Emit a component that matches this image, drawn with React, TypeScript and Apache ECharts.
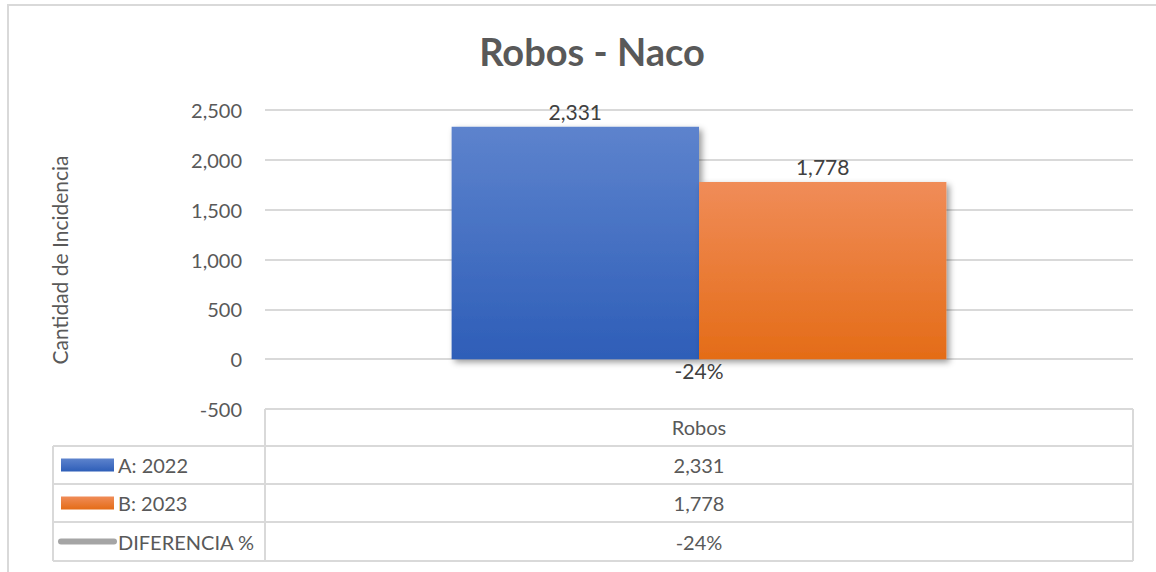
import React, { useEffect, useRef } from "react";
import * as echarts from "echarts";

const categories = ["Robos"];
const seriesNames = ["A: 2022", "B: 2023", "DIFERENCIA %"];
const valuesA = [2331];
const valuesB = [1778];
const diffPct = [-0.24];
const yTicks = { min: -500, max: 2500, interval: 500 };

const FONT = "Lato";
const TEXT = "#595959";
const GRID = "#d9d9d9";

const fmt = (v: number) => v.toLocaleString("en-US");
const pct = (v: number) => `${Math.round(v * 100)}%`;

const blueGrad = () =>
  new echarts.graphic.LinearGradient(0, 0, 0, 1, [
    { offset: 0, color: "#5d83cd" },
    { offset: 1, color: "#2e5eb8" },
  ]);
const orangeGrad = () =>
  new echarts.graphic.LinearGradient(0, 0, 0, 1, [
    { offset: 0, color: "#f08c58" },
    { offset: 1, color: "#e46c17" },
  ]);

export default function App() {
  const ref = useRef<HTMLDivElement>(null);
  useEffect(() => {
    if (!ref.current) return;
    const chart = echarts.init(ref.current, undefined, { renderer: "svg" });

    // table geometry
    const tL = 53, tM = 265, tR = 1133;
    const rows = [409, 446, 484, 522, 561];
    const colCenter = (tM + tR) / 2;
    const line = (x1: number, y1: number, x2: number, y2: number) => ({
      type: "line",
      shape: { x1, y1, x2, y2 },
      style: { stroke: GRID, lineWidth: 2 },
      silent: true,
    });
    const tableValues = [fmt(valuesA[0]), fmt(valuesB[0]), pct(diffPct[0])];
    const graphics: any[] = [
      {
        type: "rect",
        shape: { x: 8, y: 5, width: 1200, height: 620 },
        style: { fill: "none", stroke: GRID, lineWidth: 2 },
        silent: true,
      },
      line(tM, rows[0], tR, rows[0]),
      line(tL, rows[1], tR, rows[1]),
      line(tL, rows[2], tR, rows[2]),
      line(tL, rows[3], tR, rows[3]),
      line(tL, rows[4], tR, rows[4]),
      line(tL, rows[1], tL, rows[4]),
      line(tM, rows[0], tM, rows[4]),
      line(tR, rows[0], tR, rows[4]),
    ];
    const keyFills = [blueGrad(), orangeGrad()];
    seriesNames.forEach((name, i) => {
      const cy = (rows[i + 1] + rows[i + 2]) / 2;
      if (i < 2) {
        graphics.push({
          type: "rect",
          shape: { x: 61, y: cy - 6.5, width: 53, height: 13 },
          style: { fill: keyFills[i] },
          silent: true,
        });
      } else {
        graphics.push({
          type: "line",
          shape: { x1: 61, y1: cy, x2: 114, y2: cy },
          style: { stroke: "#a5a5a5", lineWidth: 6, lineCap: "round" },
          silent: true,
        });
      }
      graphics.push({
        type: "text",
        x: 118,
        y: cy,
        style: {
          text: name,
          fill: TEXT,
          font: `20px ${FONT}`,
          textVerticalAlign: "middle",
          textAlign: "left",
        },
        silent: true,
      });
      graphics.push({
        type: "text",
        x: colCenter,
        y: cy,
        style: {
          text: tableValues[i],
          fill: TEXT,
          font: `20px ${FONT}`,
          textVerticalAlign: "middle",
          textAlign: "center",
        },
        silent: true,
      });
    });
    graphics.push({
      type: "text",
      x: 59,
      y: 260,
      rotation: Math.PI / 2,
      style: {
        text: "Cantidad de Incidencia",
        fill: TEXT,
        font: `21px ${FONT}`,
        textAlign: "center",
        textVerticalAlign: "middle",
      },
      silent: true,
    });

    chart.setOption({
      animation: false,
      title: {
        text: "Robos - Naco",
        left: 587,
        textAlign: "center",
        top: 27,
        textStyle: { fontFamily: FONT, fontSize: 38, fontWeight: "bold", color: TEXT },
      },
      grid: { left: 265, right: 1156 - 1133, top: 110, bottom: 572 - 409 },
      xAxis: {
        type: "category",
        data: categories,
        axisLine: { show: false, onZero: false },
        axisTick: { show: false },
        axisLabel: { color: TEXT, fontFamily: FONT, fontSize: 20, margin: 8 },
      },
      yAxis: {
        type: "value",
        min: yTicks.min,
        max: yTicks.max,
        interval: yTicks.interval,
        axisLine: { show: false },
        axisTick: { show: false },
        splitLine: { lineStyle: { color: GRID, width: 2 } },
        axisLabel: {
          color: TEXT,
          fontFamily: FONT,
          fontSize: 20,
          margin: 23,
          formatter: (v: number) => fmt(v),
        },
      },
      series: [
        {
          name: seriesNames[0],
          type: "bar",
          data: valuesA,
          barGap: "0%",
          barCategoryGap: "43%",
          itemStyle: {
            color: blueGrad(),
            shadowBlur: 6,
            shadowColor: "rgba(0,0,0,0.4)",
            shadowOffsetX: 3,
            shadowOffsetY: 3,
          },
          label: {
            show: true,
            position: "top",
            distance: 5,
            color: "#404040",
            fontFamily: FONT,
            fontSize: 21,
            formatter: (p: any) => fmt(p.value),
          },
        },
        {
          name: seriesNames[1],
          type: "bar",
          data: valuesB,
          itemStyle: {
            color: orangeGrad(),
            shadowBlur: 6,
            shadowColor: "rgba(0,0,0,0.4)",
            shadowOffsetX: 3,
            shadowOffsetY: 3,
          },
          label: {
            show: true,
            position: "top",
            distance: 5,
            color: "#404040",
            fontFamily: FONT,
            fontSize: 21,
            formatter: (p: any) => fmt(p.value),
          },
        },
        {
          name: seriesNames[2],
          type: "line",
          data: diffPct,
          z: 10,
          symbol: "circle",
          symbolSize: 0,
          lineStyle: { color: "#a5a5a5", width: 4 },
          itemStyle: { color: "#a5a5a5" },
          label: {
            show: true,
            position: "bottom",
            distance: 1,
            color: "#404040",
            fontFamily: FONT,
            fontSize: 21,
            formatter: (p: any) => pct(p.value),
          },
        },
      ],
      graphic: graphics,
    });
    return () => chart.dispose();
  }, []);
  return (
    <div
      ref={ref}
      style={{ position: "absolute", left: 0, top: 0, width: 1156, height: 572, background: "#fff" }}
    />
  );
}
